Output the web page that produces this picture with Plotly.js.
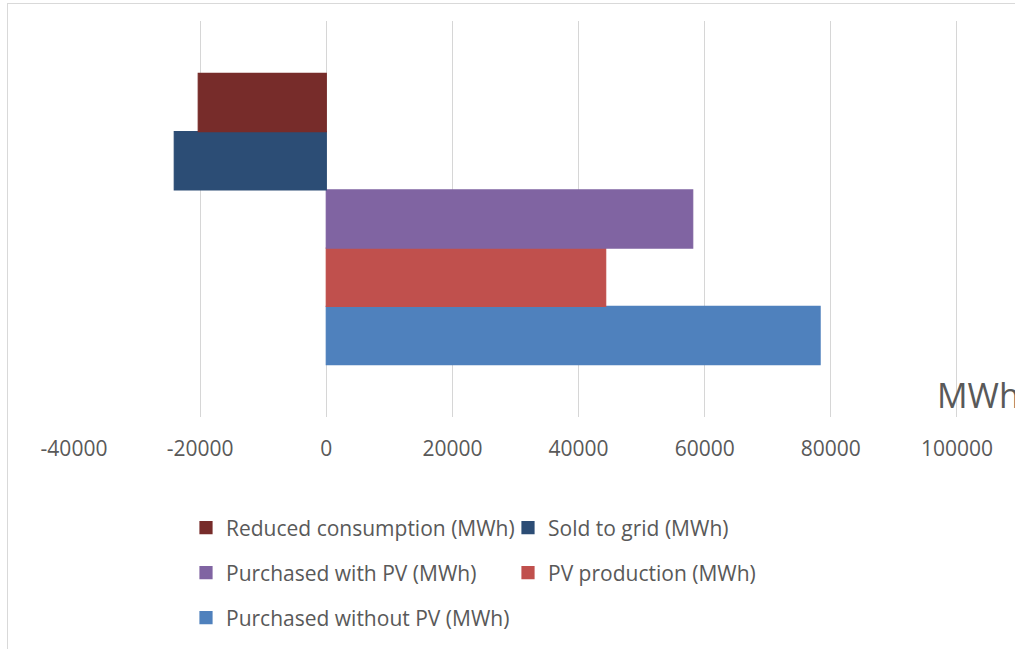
<!DOCTYPE html>
<html>
<head>
<meta charset="utf-8">
<script src="https://cdn.plot.ly/plotly-3.0.1.min.js"></script>
<style>
  html, body { margin: 0; padding: 0; background: #ffffff; overflow: hidden; }
  #chart { width: 1015px; height: 649px; position: relative; }
  #frame {
    position: absolute; left: 7px; top: 3px; width: 1100px; height: 700px;
    border-left: 1px solid #d9d9d9; border-top: 1px solid #d9d9d9;
    pointer-events: none;
  }
</style>
</head>
<body>
<div id="chart"></div>
<div id="frame"></div>
<script>
// Annual energy balance (MWh), one bar per series
const categories = ['Energy balance'];
const purchasedWithoutPV = [78300];
const pvProduction = [44300];
const purchasedWithPV = [58100];
const soldToGrid = [-24100];
const reducedConsumption = [-20300];

const seriesNames = [
  'Purchased without PV (MWh)',
  'PV production (MWh)',
  'Purchased with PV (MWh)',
  'Sold to grid (MWh)',
  'Reduced consumption (MWh)'
];
const seriesValues = [purchasedWithoutPV, pvProduction, purchasedWithPV, soldToGrid, reducedConsumption];
const seriesColors = ['#4f81bd', '#c0504d', '#8064a2', '#2c4d75', '#772c2a'];
const seriesLegends = ['legend3', 'legend2', 'legend2', 'legend', 'legend'];

const tickValues = [-40000, -20000, 0, 20000, 40000, 60000, 80000, 100000];
const tickLabels = ['-40000', '-20000', '0', '20000', '40000', '60000', '80000', '100000'];

const FONT = 'Open Sans, Noto Sans, DejaVu Sans, sans-serif';
const TEXT_COLOR = '#595959';

const traces = seriesNames.map((name, i) => ({
  type: 'bar',
  orientation: 'h',
  name: name,
  y: categories,
  x: seriesValues[i],
  // thin outline in the fill colour also enlarges the legend swatch slightly
  marker: { color: seriesColors[i], line: { width: 1.2, color: seriesColors[i] } },
  legend: seriesLegends[i],
  hoverinfo: 'x+name'
}));

const legendBase = {
  orientation: 'h',
  xanchor: 'left',
  yanchor: 'middle',
  bgcolor: 'rgba(0,0,0,0)',
  borderwidth: 0,
  traceorder: 'reversed',
  entrywidthmode: 'pixels',
  entrywidth: 277,
  font: { family: FONT, size: 21, color: TEXT_COLOR }
};

const legendX = (186 - 74) / 941;

const layout = {
  width: 1015,
  height: 649,
  margin: { l: 74, r: 0, t: 21, b: 232, pad: 0 },
  paper_bgcolor: '#ffffff',
  plot_bgcolor: '#ffffff',
  barmode: 'group',
  bargap: 0.265,
  bargroupgap: 0,
  showlegend: true,
  font: { family: FONT, color: TEXT_COLOR },
  xaxis: {
    range: [-40000, 109200],
    tickmode: 'array',
    tickvals: tickValues,
    ticktext: tickLabels,
    ticks: '',
    ticklabelstandoff: 17,
    tickfont: { family: FONT, size: 21, color: TEXT_COLOR },
    showgrid: true,
    gridcolor: '#d6d6d6',
    gridwidth: 1,
    zeroline: false,
    showline: false,
    fixedrange: true
  },
  yaxis: {
    type: 'category',
    range: [-0.5, 0.5],
    showticklabels: false,
    showgrid: false,
    zeroline: false,
    showline: false,
    fixedrange: true
  },
  legend: Object.assign({}, legendBase, { x: legendX, y: (417 - 528) / 396 }),
  legend2: Object.assign({}, legendBase, { x: legendX, y: (417 - 573) / 396 }),
  legend3: Object.assign({}, legendBase, { x: legendX, y: (417 - 618) / 396, entrywidth: 0 }),
  annotations: [{
    text: 'MWh',
    xref: 'paper', yref: 'paper',
    x: (935 - 74) / 941, y: (417 - 395) / 396,
    xanchor: 'left', yanchor: 'middle',
    showarrow: false,
    font: { family: FONT, size: 34, color: TEXT_COLOR }
  }]
};

Plotly.newPlot('chart', traces, layout, { displayModeBar: false, staticPlot: true });
</script>
</body>
</html>
